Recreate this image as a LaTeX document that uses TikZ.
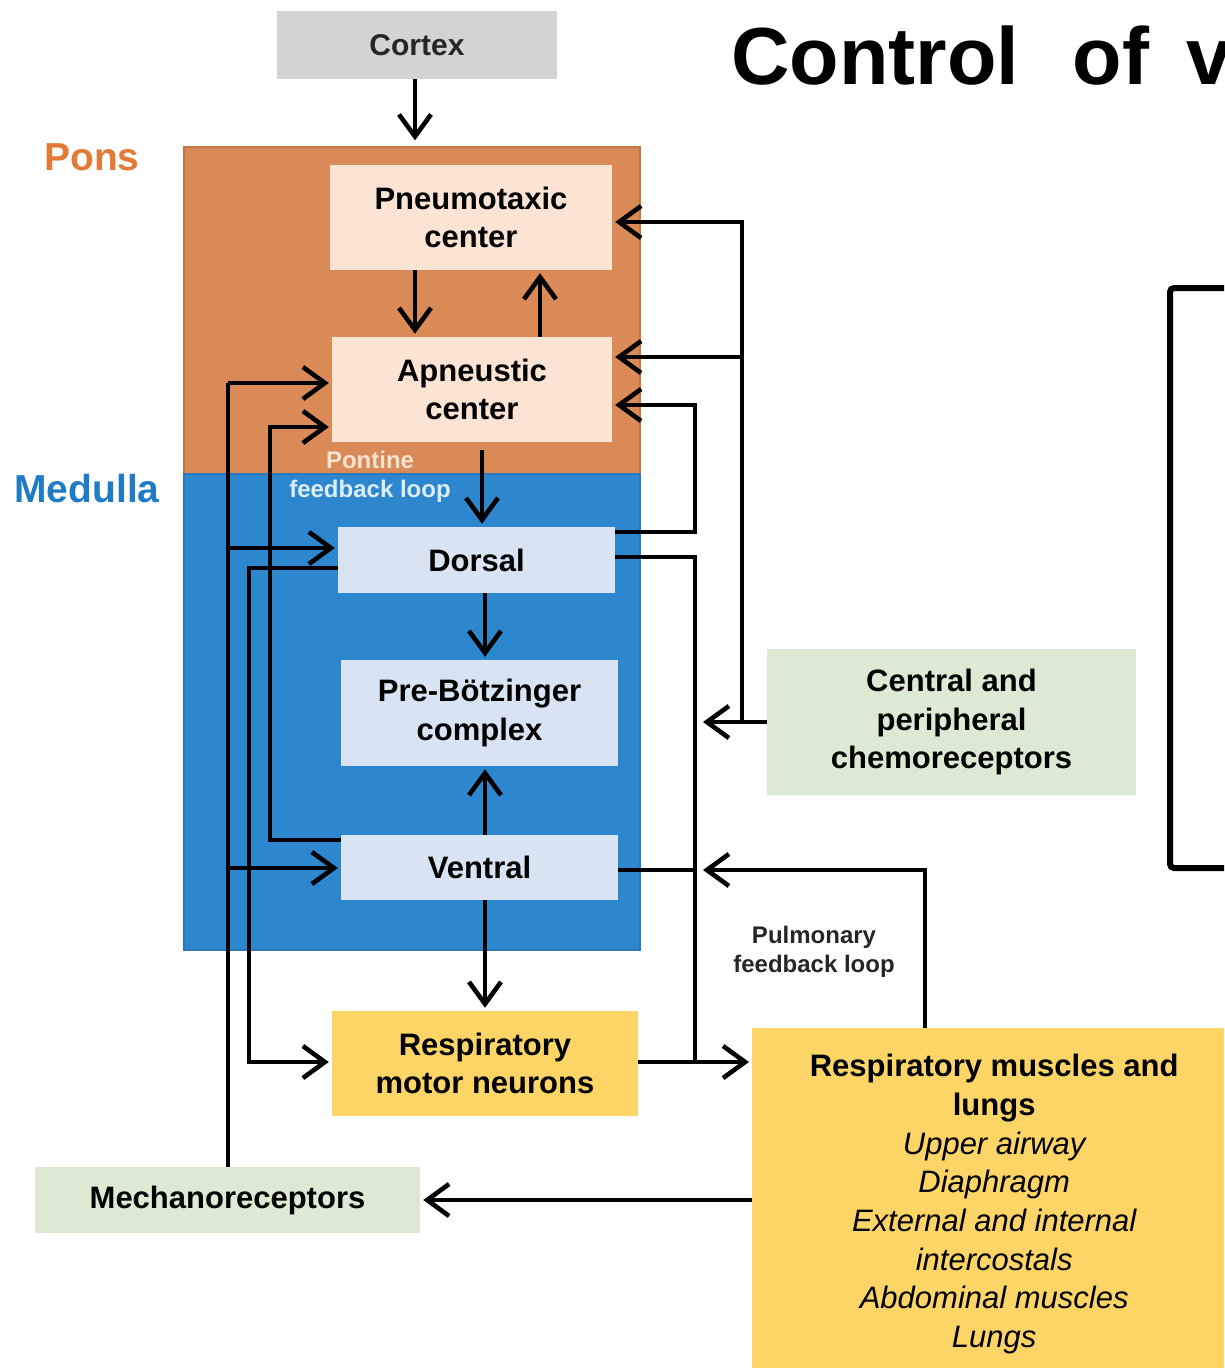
\documentclass[tikz,border=0pt]{standalone}
\usepackage{fontspec}
\setmainfont{Liberation Sans}
\usetikzlibrary{arrows.meta}
\definecolor{cortexgray}{HTML}{D3D3D3}
\definecolor{ponsor}{HTML}{D98A57}
\definecolor{ponsedge}{HTML}{C47743}
\definecolor{medblue}{HTML}{2D87CF}
\definecolor{mededge}{HTML}{2A78B8}
\definecolor{peach}{HTML}{FCE4D5}
\definecolor{paleblue}{HTML}{D8E3F3}
\definecolor{yel}{HTML}{FCD566}
\definecolor{yeledge}{HTML}{EEC75A}
\definecolor{pgreen}{HTML}{DDE9D3}
\definecolor{ponstext}{HTML}{E27B37}
\definecolor{medtext}{HTML}{1F7BC6}
\definecolor{pontinetext}{HTML}{FBE3D2}
\definecolor{fbtext}{HTML}{DDEEFA}
\tikzset{
  box/.style={rectangle, inner sep=0pt, align=center, text=black,
    font=\bfseries\fontsize{31}{38.7}\selectfont},
  region/.style={rectangle, inner sep=0pt, line width=1.2pt},
  conn/.style={line width=4.6pt, draw=black},
  arr/.style={conn, -{Straight Barb[length=22pt,width=32pt]}, shorten >=3pt},
  lbl/.style={inner sep=0pt, align=center, font=\bfseries\fontsize{24}{29}\selectfont}
}
\begin{document}
\begin{tikzpicture}[x=1pt,y=-1pt]
\clip (0,0) rectangle (1224,1368);
\fill[white] (0,0) rectangle (1224,1368);

% title
\node[anchor=base west, inner sep=0pt, text=black, font=\bfseries\fontsize{81}{88}\selectfont] (title) at (731,84) {Control\hspace{31pt} of\hspace{15pt} v};

% right frame
\draw[line width=6pt, rounded corners=4pt] (1170,288) rectangle (1260,868);

% regions
\node[region, fill=ponsor, draw=ponsedge, minimum width=456pt, minimum height=327pt] (pons) at (412,310.5) {};
\node[region, fill=medblue, draw=mededge, minimum width=456pt, minimum height=476pt] (medulla) at (412,712) {};
\node[inner sep=0pt, text=ponstext, font=\bfseries\fontsize{39}{44}\selectfont] (ponslbl) at (92,157) {Pons};
\node[inner sep=0pt, text=medtext, font=\bfseries\fontsize{39}{44}\selectfont] (medlbl) at (87,489) {Medulla};

% boxes
\node[box, fill=cortexgray, minimum width=280pt, minimum height=68pt, text=black!85, font=\bfseries\fontsize{30}{36}\selectfont] (cortex) at (417,45) {Cortex};
\node[box, fill=peach, minimum width=282pt, minimum height=105pt] (pneumo) at (471,217.5) {Pneumotaxic\\center};
\node[box, fill=peach, minimum width=280pt, minimum height=105pt] (apneu) at (472,389.5) {Apneustic\\center};
\node[box, fill=paleblue, minimum width=277pt, minimum height=66pt] (dorsal) at (476.5,560) {Dorsal};
\node[box, fill=paleblue, minimum width=277pt, minimum height=106pt] (preb) at (479.5,713) {Pre-Bötzinger\\complex};
\node[box, fill=paleblue, minimum width=277pt, minimum height=65pt] (ventral) at (479.5,867.5) {Ventral};
\node[box, fill=yel, minimum width=306pt, minimum height=105pt] (rmn) at (485,1063.5) {Respiratory\\motor neurons};
\node[box, fill=pgreen, minimum width=369pt, minimum height=146pt] (chemo) at (951.5,722) {Central and\\peripheral\\chemoreceptors};
\node[box, fill=pgreen, minimum width=385pt, minimum height=66pt] (mech) at (227.5,1200) {Mechanoreceptors};
\node[box, fill=yel, minimum width=484pt, minimum height=352pt, anchor=north west] (muscles) at (752,1028)
  {Respiratory muscles and\\lungs\\\mdseries\itshape Upper airway\\\mdseries\itshape Diaphragm\\\mdseries\itshape External and internal\\\mdseries\itshape intercostals\\\mdseries\itshape Abdominal muscles\\\mdseries\itshape Lungs};
\draw[yeledge, line width=1pt] (1219,1030) -- (1219,1368);

% labels
\node[lbl] (pontine) at (370,477) {\textcolor{pontinetext}{Pontine}\\\textcolor{fbtext}{feedback loop}};
\node[lbl, text=black!85] (pulm) at (814,952) {Pulmonary\\feedback loop};

% vertical chain
\draw[arr] (cortex.south -| 415,0) -- (pons.north -| 415,0) [shorten >=6pt];
\draw[arr] (pneumo.south -| 415,0) -- (apneu.north -| 415,0);
\draw[arr] (apneu.north -| 540,0) -- (pneumo.south -| 540,0);
\draw[arr, shorten <=8pt] (apneu.south -| 482,0) -- (dorsal.north -| 482,0);
\draw[arr] (dorsal.south -| 485,0) -- (preb.north -| 485,0);
\draw[arr] (ventral.north -| 485,0) -- (preb.south -| 485,0);
\draw[arr] (ventral.south -| 485,0) -- (rmn.north -| 485,0);

% chemoreceptors
\coordinate (cj) at (742,722);
\coordinate (chemotip) at (700,722);
\draw[arr] (chemo.west) -- (chemotip);
\draw[arr] (cj) -- (742,222) -- (pneumo.east |- 0,222);
\draw[arr] (742,357) -- (apneu.east |- 0,357);

% dorsal -> apneustic
\draw[arr] (dorsal.east |- 0,532) -- (695,532) -- (695,405) -- (apneu.east |- 0,405);
% dorsal -> muscles
\draw[conn] (dorsal.east |- 0,557) -- (695,557) -- (695,1062);
\draw[arr] (rmn.east |- 0,1062) -- (muscles.west |- 0,1062);
% ventral output
\draw[conn] (ventral.east |- 0,870) -- (695,870);
% pulmonary feedback
\coordinate (pulmtip) at (700,870);
\draw[arr] (muscles.north -| 925,0) -- (925,870) -- (pulmtip);
% muscles -> mechanoreceptors
\draw[arr] (muscles.west |- 0,1200) -- (mech.east |- 0,1200);
% mechanoreceptors up
\draw[conn] (mech.north -| 228,0) -- (228,383);
\draw[arr] (228,383) -- (apneu.west |- 0,383);
\draw[arr] (228,548) -- (dorsal.west |- 0,548);
\draw[arr] (228,868) -- (ventral.west |- 0,868);
% ventral -> apneustic
\draw[arr] (ventral.west |- 0,840) -- (270,840) -- (270,427) -- (apneu.west |- 0,427);
% dorsal -> motor neurons
\draw[arr] (dorsal.west |- 0,568) -- (249,568) -- (249,1062) -- (rmn.west |- 0,1062);
\end{tikzpicture}
\end{document}
